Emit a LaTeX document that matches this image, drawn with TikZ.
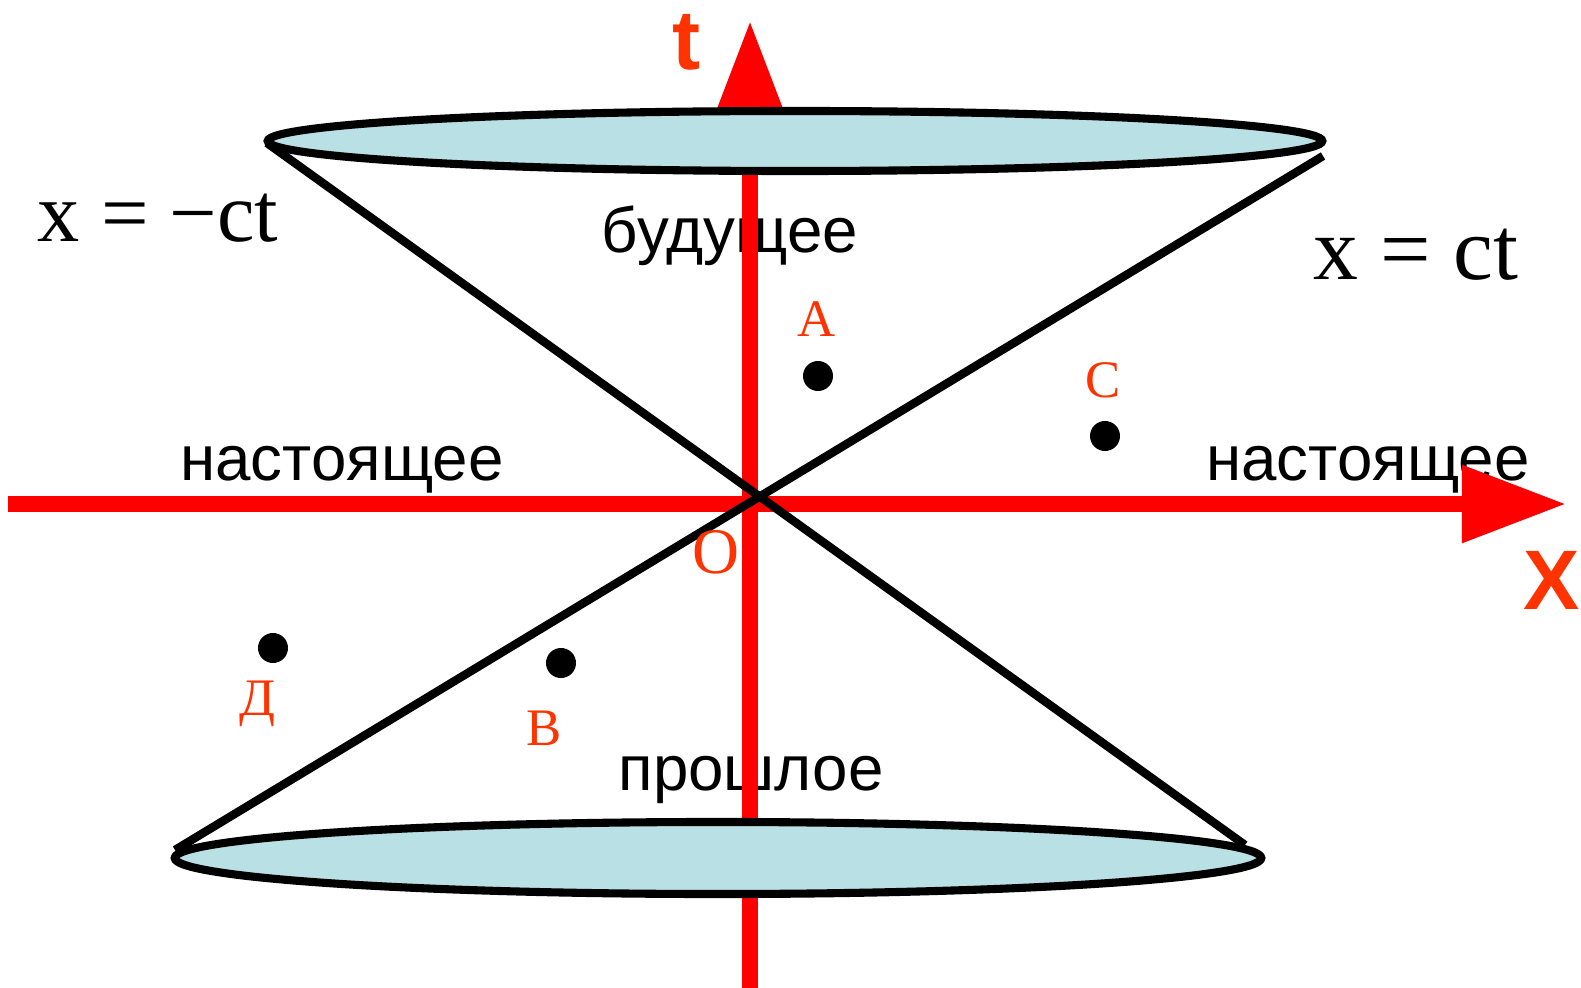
\documentclass[tikz,border=0pt]{standalone}
\usepackage{fontspec}
\setmainfont{Liberation Serif}
\newfontfamily\arialfont{Liberation Sans}
\usetikzlibrary{arrows.meta}

\definecolor{axisred}{RGB}{255,0,0}
\definecolor{labelred}{RGB}{255,51,0}
\definecolor{conefill}{RGB}{185,224,228}

\begin{document}
\begin{tikzpicture}
[
	x=0.01cm, y=-0.01cm,
	axis/.style={axisred, line width=4.4pt, -{Triangle[length=1.04cm,width=0.74cm]}},
	cone/.style={line width=2.4pt},
	disc/.style={draw, line width=2.3pt, fill=conefill},
	pt/.style={circle,fill,inner sep=0pt,minimum size=0.3cm},
	ptlabel/.style={labelred, anchor=base, font=\fontsize{15}{18}\selectfont},
	region/.style={anchor=base, font=\arialfont\fontsize{18.1}{21}\selectfont},
	axlabel/.style={labelred, anchor=base, font=\arialfont\bfseries\fontsize{24}{28}\selectfont},
	eqn/.style={anchor=base, font=\fontsize{24}{28}\selectfont}
]
	\useasboundingbox (0,0) rectangle (1581,988);

	% regions
	\node[region] at (730,253) (fut) {будущее};
	\node[region] at (751,790) (past) {прошлое};
	\node[region] at (342,480) (presl) {настоящее};
	\node[region] at (1368,480) (presr) {настоящее};

	% light lines
	\node[eqn] at (158,242) (lminus) {x = −ct};
	\node[eqn,font=\fontsize{25.5}{30}\selectfont] at (1416,280) (lplus) {x = ct};

	% axes
	\coordinate (xs) at (8,504);
	\coordinate (xe) at (1566,504);
	\coordinate (ts) at (750,988);
	\coordinate (te) at (750,21);
	\draw[axis] (xs) -- (xe);
	\draw[axis] (ts) -- (te);
	\node[axlabel] at (687,70) (tlab) {t};
	\node[axlabel] at (1552,609) (xlab) {X};

	% cone
	\draw[disc] (795,141) ellipse [x radius=5.27cm, y radius=0.3cm];
	\draw[disc] (718,858) ellipse [x radius=5.43cm, y radius=0.36cm];
	\coordinate (tl) at (267,143);
	\coordinate (br) at (1245,845);
	\coordinate (tr) at (1323,156);
	\coordinate (bl) at (175,850);
	\draw[cone] (tl) -- (br);
	\draw[cone] (tr) -- (bl);

	% events
	\node[pt] at (818,376) (pA) {};
	\node[pt] at (1105,436) (pC) {};
	\node[pt] at (273,648) (pD) {};
	\node[pt] at (561,663) (pB) {};
	\node[ptlabel] at (817,337) (lA) {А};
	\node[ptlabel] at (1103,397) (lC) {С};
	\node[ptlabel] at (257,715) (lD) {Д};
	\node[ptlabel] at (544,745) (lB) {В};
	\node[ptlabel,font=\fontsize{18.5}{22}\selectfont] at (716,573) (lO) {O};

\end{tikzpicture}
\end{document}
